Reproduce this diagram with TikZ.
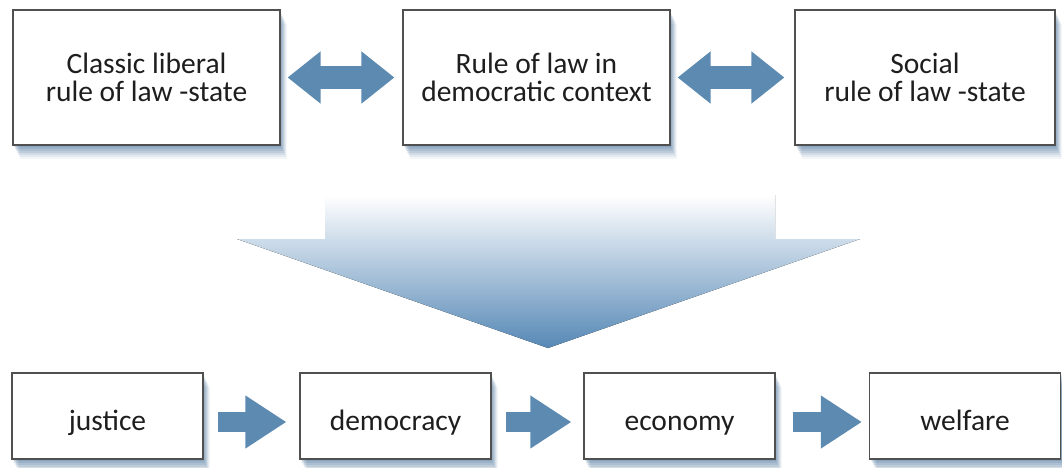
\documentclass[tikz,border=0pt]{standalone}
\usepackage{fontspec}
\setmainfont{Carlito}
\usetikzlibrary{arrows.meta,shadows,calc}
\definecolor{boxline}{RGB}{80,80,80}
\definecolor{txt}{RGB}{30,30,30}
\definecolor{arrowblue}{RGB}{92,138,176}
\definecolor{shblue}{RGB}{50,95,140}
\definecolor{tipblue}{RGB}{86,136,182}
\tikzset{
  softshadow/.style={
    general shadow={fill=shblue, opacity=0.14, shadow xshift=1pt, shadow yshift=-2pt},
    general shadow={fill=shblue, opacity=0.14, shadow xshift=2pt, shadow yshift=-4pt},
    general shadow={fill=shblue, opacity=0.13, shadow xshift=3pt, shadow yshift=-6pt},
    general shadow={fill=shblue, opacity=0.12, shadow xshift=4pt, shadow yshift=-8pt},
    general shadow={fill=shblue, opacity=0.10, shadow xshift=5pt, shadow yshift=-10pt},
    general shadow={fill=shblue, opacity=0.08, shadow xshift=6pt, shadow yshift=-12pt},
    general shadow={fill=shblue, opacity=0.06, shadow xshift=7pt, shadow yshift=-14pt}
  },
  boxbase/.style={draw=boxline, line width=1.1pt, fill=white, inner sep=0pt,
    align=center, text=txt, softshadow},
  topbox/.style={boxbase, minimum width=267pt, minimum height=135pt,
    font=\fontsize{29.5}{27.5}\selectfont},
  botbox/.style={boxbase, minimum width=191pt, minimum height=86pt,
    text height=28pt, text depth=0pt,
    font=\fontsize{29.5}{30}\selectfont},
  dblarrow/.style={arrowblue, line width=23pt,
    {Triangle[length=33pt,width=50pt]}-{Triangle[length=33pt,width=50pt]}},
  fwdarrow/.style={arrowblue, line width=20pt,
    -{Triangle[length=41pt,width=50pt]}},
  downshade/.style={top color=white, bottom color=tipblue, draw=none}
}
\begin{document}
\begin{tikzpicture}[x=1pt,y=-1pt]
\useasboundingbox (0,0) rectangle (1062,468);

% top row
\node[topbox] (cl) at (146.5,77.5) {Classic liberal\\rule of law -state};
\node[topbox] (rd) at (536.5,77.5) {Rule of law in\\democratic context};
\node[topbox, minimum width=260pt] (so) at (925,77.5) {Social\\rule of law -state};

\draw[dblarrow] ([xshift=7pt]cl.east) -- ([xshift=-8pt]rd.west);
\draw[dblarrow] ([xshift=7pt]rd.east) -- ([xshift=-10pt]so.west);

% big down arrow
\coordinate (dtip) at (548,348);
\fill[downshade] (325,195) -- (775,195) -- (775,239) -- (860,239) -- (dtip)
  -- (237,239) -- (325,239) -- cycle;

% bottom row
\node[botbox] (ju) at (107.5,416) {justice};
\node[botbox] (de) at (395.5,416) {democracy};
\node[botbox] (ec) at (679.5,416) {economy};
\node[botbox] (we) at (965,416) {welfare};

\draw[fwdarrow] ([xshift=14pt,yshift=-6pt]ju.east) -- ([xshift=-13pt,yshift=-6pt]de.west);
\draw[fwdarrow] ([xshift=14pt,yshift=-6pt]de.east) -- ([xshift=-12pt,yshift=-6pt]ec.west);
\draw[fwdarrow] ([xshift=17pt,yshift=-6pt]ec.east) -- ([xshift=-7pt,yshift=-6pt]we.west);
\end{tikzpicture}
\end{document}
